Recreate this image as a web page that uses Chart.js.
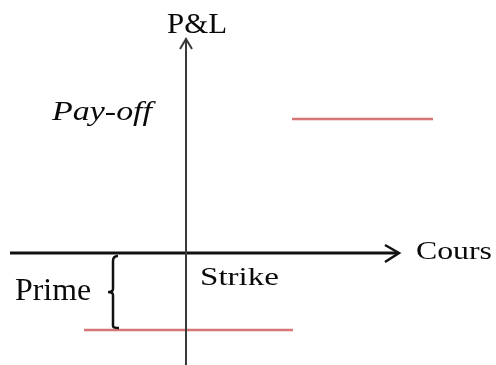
<!DOCTYPE html>
<html>
<head>
<meta charset="utf-8">
<script src="https://cdn.jsdelivr.net/npm/chart.js@4.4.1/dist/chart.umd.min.js"></script>
<style>
  html, body { margin: 0; padding: 0; background: #ffffff; }
  canvas { display: block; }
</style>
</head>
<body>
<canvas id="c" width="496" height="365"></canvas>
<script>
// ---- Data (Cours on x, P&L on y) ----
const coursLoss = [-10.2, 10.7];   // before the strike
const pnlLoss   = [-7.7, -7.7];    // loss = premium paid
const coursGain = [10.6, 24.7];    // after the strike
const pnlGain   = [13.4, 13.4];    // fixed pay-off
const primeLevel = -7.7;
const axisLabels = ["P&L", "Cours"];
const noteLabels = ["Pay-off", "Prime", "Strike"];

const toPoints = (xs, ys) => xs.map((x, i) => ({ x: x, y: ys[i] }));

// ---- Drawing helpers (axes, arrows, brace, labels) via scales ----
const diagramPlugin = {
  id: 'diagram',
  afterDatasetsDraw(chart, args, opts) {
    const ctx = chart.ctx;
    const xs = chart.scales.x, ys = chart.scales.y;
    const px = v => xs.getPixelForValue(v);
    const py = v => ys.getPixelForValue(v);
    ctx.save();
    ctx.lineCap = 'butt';

    // horizontal axis (Cours)
    ctx.strokeStyle = '#111';
    ctx.lineWidth = 3;
    const hy = py(0), hx0 = px(opts.xAxis[0]), hx1 = px(opts.xAxis[1]);
    ctx.beginPath(); ctx.moveTo(hx0, hy); ctx.lineTo(hx1 - 1, hy); ctx.stroke();
    ctx.lineWidth = 2.5;
    ctx.beginPath();
    ctx.moveTo(hx1 - 14, hy - 8); ctx.lineTo(hx1, hy); ctx.lineTo(hx1 - 14, hy + 9);
    ctx.stroke();

    // vertical axis (P&L)
    ctx.strokeStyle = '#3a3a3a';
    ctx.lineWidth = 2;
    const vx = px(0), vy0 = py(opts.yAxis[0]), vy1 = py(opts.yAxis[1]);
    ctx.beginPath(); ctx.moveTo(vx, vy0); ctx.lineTo(vx, vy1 + 1); ctx.stroke();
    ctx.beginPath();
    ctx.moveTo(vx - 6, vy1 + 10); ctx.lineTo(vx, vy1); ctx.lineTo(vx + 6, vy1 + 10);
    ctx.stroke();

    // brace for the premium
    ctx.strokeStyle = '#111';
    ctx.lineWidth = 2.5;
    const bx = px(opts.braceX), bTop = py(0) + 3, bBot = py(primeLevel) - 2;
    const bMid = (bTop + bBot) / 2;
    ctx.beginPath();
    ctx.moveTo(bx + 5, bTop);
    ctx.quadraticCurveTo(bx, bTop, bx, bTop + 5);
    ctx.lineTo(bx, bMid - 3);
    ctx.quadraticCurveTo(bx, bMid, bx - 5, bMid);
    ctx.quadraticCurveTo(bx, bMid, bx, bMid + 3);
    ctx.lineTo(bx, bBot - 2);
    ctx.quadraticCurveTo(bx, bBot, bx + 6, bBot);
    ctx.stroke();

    // labels
    ctx.fillStyle = '#0a0a0a';
    ctx.textBaseline = 'alphabetic';
    ctx.textAlign = 'left';
    opts.labels.forEach(l => {
      ctx.font = l.font;
      const w = ctx.measureText(l.text).width;
      const sx = l.width / w;
      ctx.save();
      ctx.translate(px(l.x), py(l.y));
      ctx.scale(sx, 1);
      ctx.fillText(l.text, 0, 0);
      ctx.restore();
    });
    ctx.restore();
  }
};

const serif = '"Times New Roman", "Liberation Serif", Tinos, serif';

new Chart(document.getElementById('c'), {
  type: 'scatter',
  data: {
    datasets: [
      {
        data: toPoints(coursLoss, pnlLoss),
        showLine: true,
        borderColor: 'rgb(214,118,118)',
        borderWidth: 2.5,
        pointRadius: 0,
        pointHoverRadius: 0
      },
      {
        data: toPoints(coursGain, pnlGain),
        showLine: true,
        borderColor: 'rgb(214,118,118)',
        borderWidth: 2.5,
        pointRadius: 0,
        pointHoverRadius: 0
      }
    ]
  },
  options: {
    responsive: false,
    animation: false,
    layout: { padding: 0 },
    plugins: {
      legend: { display: false },
      tooltip: { enabled: false },
      diagram: {
        xAxis: [-17.6, 21.3],
        yAxis: [-11.2, 21.4],
        braceX: -7.3,
        labels: [
          { text: axisLabels[0], x: -1.9, y: 22.0, width: 60, font: '30px ' + serif },
          { text: axisLabels[1], x: 23.0, y: -0.6, width: 76, font: '25px ' + serif },
          { text: noteLabels[0], x: -13.4, y: 13.3, width: 100, font: 'italic 28px ' + serif },
          { text: noteLabels[1], x: -17.1, y: -4.7, width: 76, font: '31px ' + serif },
          { text: noteLabels[2], x: 1.4, y: -3.2, width: 79, font: '25px ' + serif }
        ]
      }
    },
    scales: {
      x: { type: 'linear', display: false, min: -18.6, max: 31.0 },
      y: { type: 'linear', display: false, min: -11.2, max: 25.3 }
    }
  },
  plugins: [diagramPlugin]
});
</script>
</body>
</html>
